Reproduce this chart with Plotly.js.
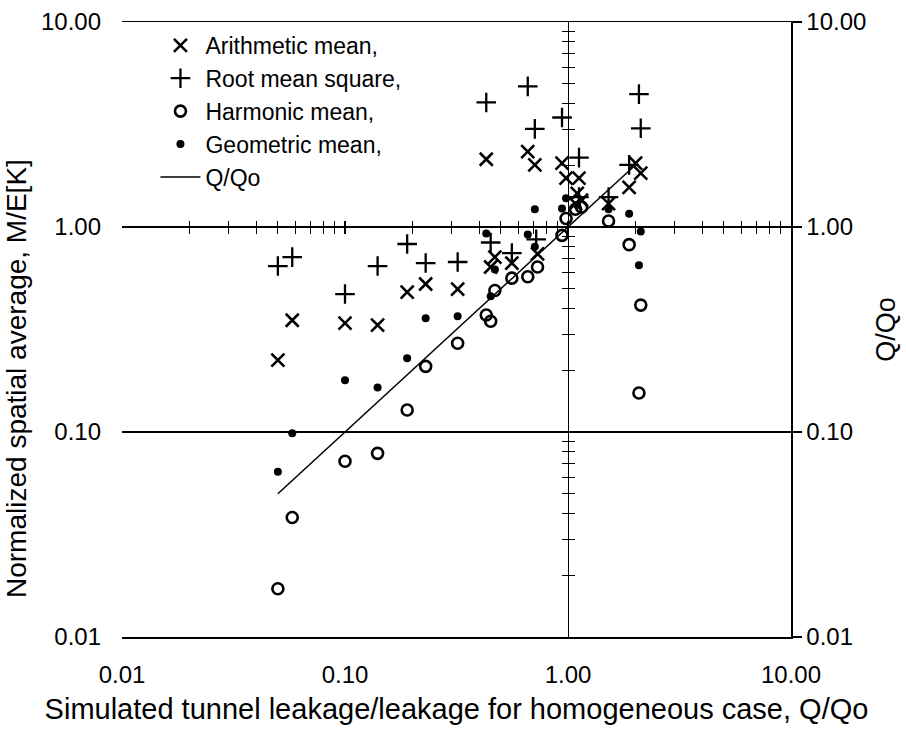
<!DOCTYPE html>
<html>
<head>
<meta charset="utf-8">
<script src="https://cdn.plot.ly/plotly-3.0.1.min.js"></script>
<style>html,body{margin:0;padding:0;background:#fff;}#chart{width:906px;height:734px;}</style>
</head>
<body>
<div id="chart"></div>
<script>
// ---- data ----
const amX = [0.05, 0.058, 0.10, 0.14, 0.19, 0.23, 0.32, 0.43, 0.45, 0.47, 0.56, 0.66, 0.71, 0.73, 0.94, 0.98, 1.10, 1.12, 1.08, 1.15, 1.52, 1.88, 2.01, 2.12];
const amY = [0.224, 0.351, 0.34, 0.332, 0.481, 0.527, 0.498, 2.14, 0.638, 0.713, 0.667, 2.33, 2.01, 0.74, 2.05, 1.73, 1.46, 1.73, 1.30, 1.35, 1.30, 1.56, 2.05, 1.83];

const rmsX = [0.05, 0.058, 0.10, 0.14, 0.19, 0.23, 0.32, 0.43, 0.45, 0.56, 0.66, 0.71, 0.72, 0.94, 1.12, 1.12, 1.52, 1.88, 2.08, 2.12];
const rmsY = [0.645, 0.713, 0.471, 0.645, 0.826, 0.667, 0.675, 4.05, 0.84, 0.746, 4.85, 3.01, 0.87, 3.42, 2.18, 1.40, 1.40, 2.01, 4.45, 3.03];

const hmX = [0.05, 0.058, 0.10, 0.14, 0.19, 0.23, 0.32, 0.43, 0.45, 0.47, 0.56, 0.66, 0.73, 0.94, 0.98, 1.08, 1.15, 1.52, 1.88, 2.12, 2.08];
const hmY = [0.0172, 0.0383, 0.072, 0.0787, 0.128, 0.209, 0.271, 0.372, 0.347, 0.49, 0.563, 0.572, 0.638, 0.91, 1.10, 1.22, 1.25, 1.07, 0.82, 0.416, 0.155];

const gmX = [0.05, 0.058, 0.10, 0.14, 0.19, 0.23, 0.32, 0.43, 0.45, 0.47, 0.66, 0.71, 0.71, 0.94, 0.98, 1.10, 1.52, 1.88, 2.12, 2.08];
const gmY = [0.064, 0.0986, 0.179, 0.165, 0.229, 0.359, 0.367, 0.93, 0.46, 0.62, 0.92, 1.22, 0.80, 1.23, 1.38, 1.28, 1.22, 1.16, 0.95, 0.65];

const lineX = [0.05, 2];
const lineY = [0.05, 2];

const seriesNames = ['Arithmetic mean,', 'Root mean square,', 'Harmonic mean,', 'Geometric mean,', 'Q/Qo'];

const majorVals = [0.01, 0.1, 1, 10];
const majorText = ['0.01', '0.10', '1.00', '10.00'];
const crossTickVals = [0.02,0.03,0.04,0.05,0.06,0.07,0.08,0.09,0.1,0.2,0.3,0.4,0.5,0.6,0.7,0.8,0.9,1,2,3,4,5,6,7,8,9];

const xTitle = 'Simulated tunnel leakage/leakage for homogeneous case, Q/Qo';
const yTitle = 'Normalized spatial average, M/E[K]';
const y2Title = 'Q/Qo';

// ---- chart ----
const FONT = 'Liberation Sans, Arial, Helvetica, sans-serif';

// invisible helper traces so that the extra (crossing / right) axes get drawn
function helper(xa, ya) {
  return {x: lineX, y: lineY, xaxis: xa, yaxis: ya, mode: 'lines', type: 'scatter',
          line: {width: 0, color: 'rgba(0,0,0,0)'}, opacity: 0, showlegend: false, hoverinfo: 'skip'};
}

const traces = [
  helper('x2', 'y'), helper('x3', 'y'), helper('x', 'y2'), helper('x', 'y3'), helper('x', 'y4'),
  {x: amX, y: amY, name: seriesNames[0], mode: 'markers', type: 'scatter',
   marker: {symbol: 'x-thin-open', size: 13, color: '#000', line: {width: 2.6, color: '#000'}}},
  {x: rmsX, y: rmsY, name: seriesNames[1], mode: 'markers', type: 'scatter',
   marker: {symbol: 'cross-thin-open', size: 14, color: '#000', line: {width: 2.3, color: '#000'}}},
  {x: hmX, y: hmY, name: seriesNames[2], mode: 'markers', type: 'scatter',
   marker: {symbol: 'circle-open', size: 11, color: '#000', line: {width: 2.6, color: '#000'}}},
  {x: gmX, y: gmY, name: seriesNames[3], mode: 'markers', type: 'scatter',
   marker: {symbol: 'circle', size: 8, color: '#000'}},
  {x: lineX, y: lineY, name: seriesNames[4], mode: 'lines', type: 'scatter',
   line: {color: '#000', width: 1.5}}
];

const logRange = [-2, 1];
const crossAxisX = {
  type: 'log', range: logRange, overlaying: 'x', anchor: 'free', position: 2/3,
  showline: true, linecolor: '#000', linewidth: 1.3, showgrid: false, zeroline: false,
  tickmode: 'array', tickvals: crossTickVals, showticklabels: false,
  ticklen: 6, tickwidth: 1.2, tickcolor: '#000'
};
const crossAxisY = {
  type: 'log', range: logRange, overlaying: 'y', anchor: 'free', position: 2/3,
  showline: true, linecolor: '#000', linewidth: 1.3, showgrid: false, zeroline: false,
  tickmode: 'array', tickvals: crossTickVals, showticklabels: false,
  ticklen: 6, tickwidth: 1.2, tickcolor: '#000'
};

const layout = {
  width: 906, height: 734,
  margin: {l: 122, r: 115, t: 22, b: 97},
  paper_bgcolor: '#fff', plot_bgcolor: '#fff',
  font: {family: FONT, color: '#000', size: 24},
  showlegend: true,
  legend: {x: 0.05, y: 0.997, xanchor: 'left', yanchor: 'top', bgcolor: 'rgba(0,0,0,0)',
           font: {size: 23, family: FONT}, itemwidth: 40, borderwidth: 0, traceorder: 'normal'},
  xaxis: {
    type: 'log', range: logRange, domain: [0, 1],
    showline: true, mirror: true, linecolor: '#000', linewidth: 1.5,
    showgrid: false, zeroline: false,
    tickmode: 'array', tickvals: majorVals, ticktext: majorText,
    ticks: 'outside', ticklen: 16, tickcolor: 'rgba(0,0,0,0)',
    tickfont: {size: 24, family: FONT},
    title: {text: xTitle, font: {size: 29, family: FONT}, standoff: 11},
    automargin: false
  },
  yaxis: {
    type: 'log', range: logRange, domain: [0, 1],
    showline: false, showgrid: true, gridcolor: '#000', gridwidth: 1.2, zeroline: false,
    tickmode: 'array', tickvals: majorVals, ticktext: majorText,
    ticks: '', ticklabelstandoff: 20,
    tickfont: {size: 24, family: FONT},
    automargin: false
  },
  yaxis2: {
    type: 'log', range: logRange, overlaying: 'y', side: 'right', anchor: 'x',
    showline: true, linecolor: '#000', linewidth: 1.5, showgrid: false, zeroline: false,
    tickmode: 'array', tickvals: majorVals, ticktext: majorText,
    ticks: 'outside', ticklen: 9, tickcolor: '#000', tickwidth: 1.3,
    tickfont: {size: 24, family: FONT},
    title: {text: y2Title, font: {size: 27, family: FONT}, standoff: 10},
    automargin: false
  },
  xaxis2: Object.assign({}, crossAxisX, {ticks: 'outside', side: 'bottom'}),
  xaxis3: Object.assign({}, crossAxisX, {ticks: 'inside', side: 'bottom'}),
  yaxis3: Object.assign({}, crossAxisY, {ticks: 'outside', side: 'left'}),
  yaxis4: Object.assign({}, crossAxisY, {ticks: 'inside', side: 'left'}),
  annotations: [{
    text: yTitle, xref: 'paper', yref: 'paper', x: -0.158, y: 0.42,
    xanchor: 'center', yanchor: 'middle', textangle: -90, showarrow: false,
    font: {size: 28, family: FONT, color: '#000'}
  }]
};

Plotly.newPlot('chart', traces, layout, {staticPlot: true, displayModeBar: false});
</script>
</body>
</html>
